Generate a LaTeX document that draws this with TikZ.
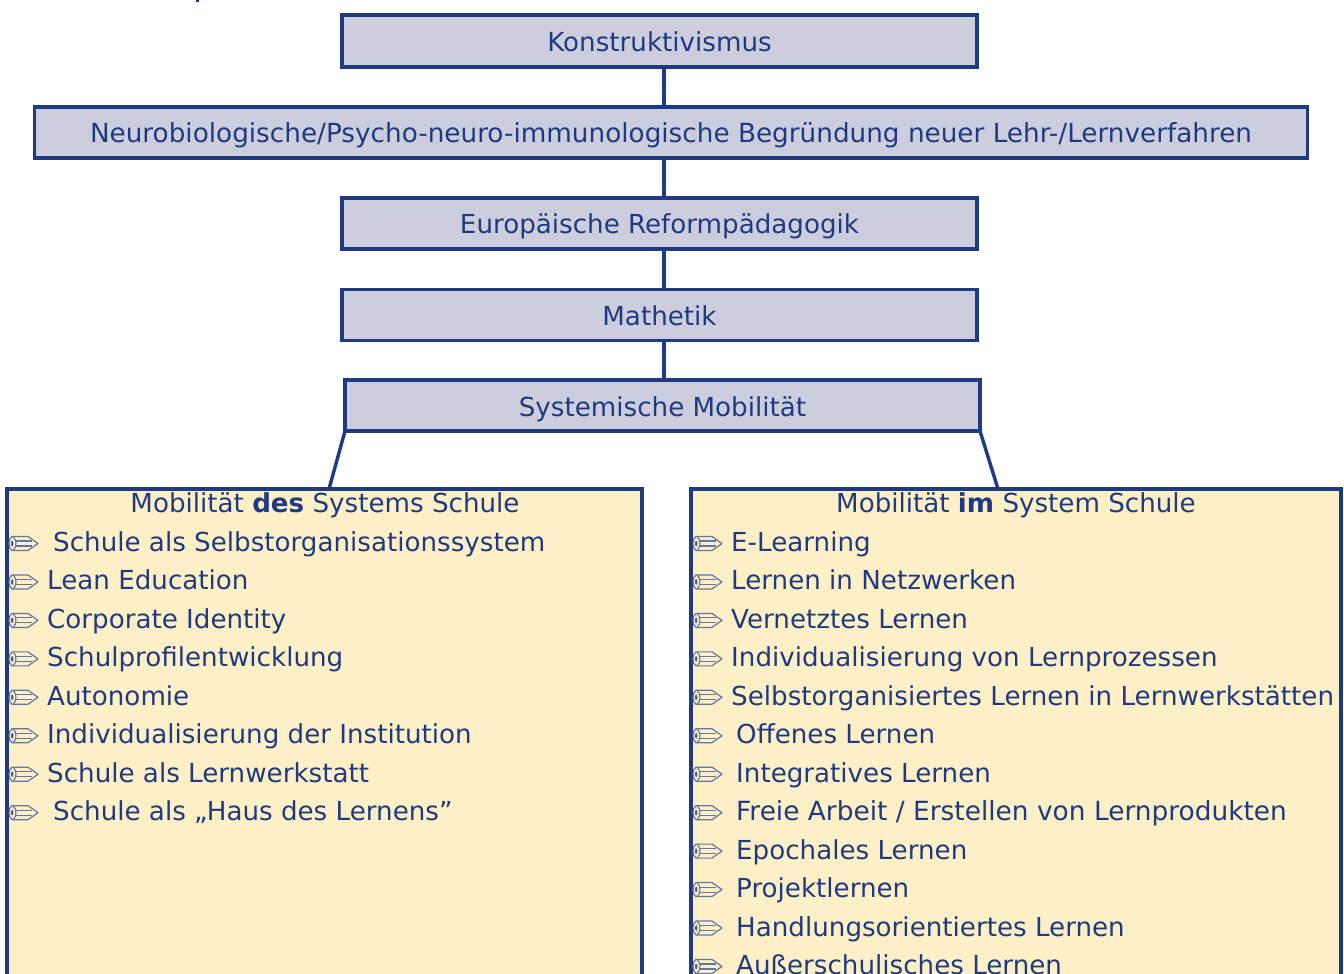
\documentclass[tikz,border=0pt]{standalone}
\usepackage{fontspec}
\setmainfont{DejaVu Sans}
\definecolor{navy}{HTML}{1F3A80}
\definecolor{boxfill}{HTML}{CCCEDE}
\definecolor{notefill}{HTML}{FEF0C6}
\newcommand{\itemsize}{\fontsize{26.15}{30}\selectfont}
\newcommand{\boxtext}[2][-10.2pt]{\raisebox{#1}[0pt][0pt]{#2}}
\tikzset{
 x=1pt,y=-1pt,
 topbox/.style={draw=navy,line width=3.4pt,fill=boxfill,rectangle,inner sep=0pt,outer sep=0pt,text=navy,font=\itemsize},
 listbox/.style={draw=navy,line width=3.4pt,fill=notefill,rectangle,inner sep=0pt,outer sep=0pt},
 link/.style={draw=navy,line width=3.4pt},
 lab/.style={anchor=base west,inner sep=0pt,text=navy,font=\itemsize},
 head/.style={anchor=base,inner sep=0pt,text=navy,font=\itemsize},
 pencil/.pic={
  \draw[navy!70,line width=1.2pt,line join=round]
   (3,-7)--(19,-7)--(29,0)--(19,7)--(3,7) .. controls (-1,5) and (-1,-5) .. (3,-7)--cycle;
  \draw[navy!70,line width=1.1pt] (4,-7) .. controls (8,-4) and (8,4) .. (4,7);
  \draw[navy!70,line width=1.1pt] (6.5,-2.5)--(23,-2.5) (6.5,2.5)--(23,2.5);
  \fill[navy!80] (3.2,0) ellipse [x radius=1.3pt,y radius=2.8pt];
 }
}
\begin{document}
\begin{tikzpicture}
\useasboundingbox (0,0) rectangle (1344,974);
\clip (0,0) rectangle (1344,974);
\fill[white] (0,0) rectangle (1344,974);
\fill[navy] (195.5,0) rectangle (199,2);
\node[topbox,minimum width=635pt,minimum height=52pt] (a) at (659.5,41) {\boxtext[-11pt]{Konstruktivismus}};
\node[topbox,minimum width=1273pt,minimum height=51pt] (b) at (671,132.5) {\boxtext{\fontsize{26.27}{30}\selectfont Neurobiologische/Psycho-neuro-immunologische Begründung neuer Lehr-/Lernverfahren}};
\node[topbox,minimum width=635pt,minimum height=51pt] (c) at (659.5,223.5) {\boxtext{Europäische Reformpädagogik}};
\node[topbox,minimum width=635pt,minimum height=51pt] (d) at (659.5,315) {\boxtext{Mathetik}};
\node[topbox,minimum width=635pt,minimum height=51pt] (e) at (662.5,405.5) {\boxtext[-11pt]{Systemische Mobilität}};
\coordinate (ab) at (664,67);
\coordinate (ba) at (664,107);
\coordinate (bc) at (664,157);
\coordinate (cb) at (664,198);
\coordinate (cd) at (664,249);
\coordinate (dc) at (664,290);
\coordinate (de) at (664,340);
\coordinate (ed) at (664,380);
\coordinate (lt) at (329,489);
\coordinate (rt) at (998,489);
\draw[link] (ab)--(ba) (bc)--(cb) (cd)--(dc) (de)--(ed);
\node[listbox,anchor=north west,minimum width=635pt,minimum height=560pt] (L) at (7,489) {};
\node[listbox,anchor=north west,minimum width=650pt,minimum height=560pt] (R) at (691,489) {};
\draw[link] (e.south west)--(lt) (e.south east)--(rt);
\node[head] (lh) at (325,512) {Mobilität \textbf{des} Systems Schule};
\node[head] (rh) at (1016,512) {Mobilität \textbf{im} System Schule};
\foreach \n/\xx/\txt [count=\i from 0] in {
 l1/53/Schule als Selbstorganisationssystem,
 l2/47/Lean Education,
 l3/47/Corporate Identity,
 l4/47/Schulprofilentwicklung,
 l5/47/Autonomie,
 l6/47/Individualisierung der Institution,
 l7/47/Schule als Lernwerkstatt,
 l8/53/Schule als „Haus des Lernens”}{
 \pgfmathsetmacro{\yy}{551.5+38.45*\i}
 \pic at (9,\yy-8) {pencil};
 \node[lab] (\n) at (\xx,\yy) {\txt};
}
\foreach \n/\xx/\txt [count=\i from 0] in {
 r1/731/E-Learning,
 r2/731/Lernen in Netzwerken,
 r3/731/Vernetztes Lernen,
 r4/731/Individualisierung von Lernprozessen,
 r5/731/Selbstorganisiertes Lernen in Lernwerkstätten,
 r6/736/Offenes Lernen,
 r7/736/Integratives Lernen,
 r8/736/{\fontsize{26.4}{30}\selectfont Freie Arbeit / Erstellen von Lernprodukten},
 r9/736/Epochales Lernen,
 r10/736/Projektlernen,
 r11/736/Handlungsorientiertes Lernen,
 r12/736/Außerschulisches Lernen}{
 \pgfmathsetmacro{\yy}{551.5+38.45*\i}
 \pic at (693,\yy-8) {pencil};
 \node[lab] (\n) at (\xx,\yy) {\txt};
}
\end{tikzpicture}
\end{document}
